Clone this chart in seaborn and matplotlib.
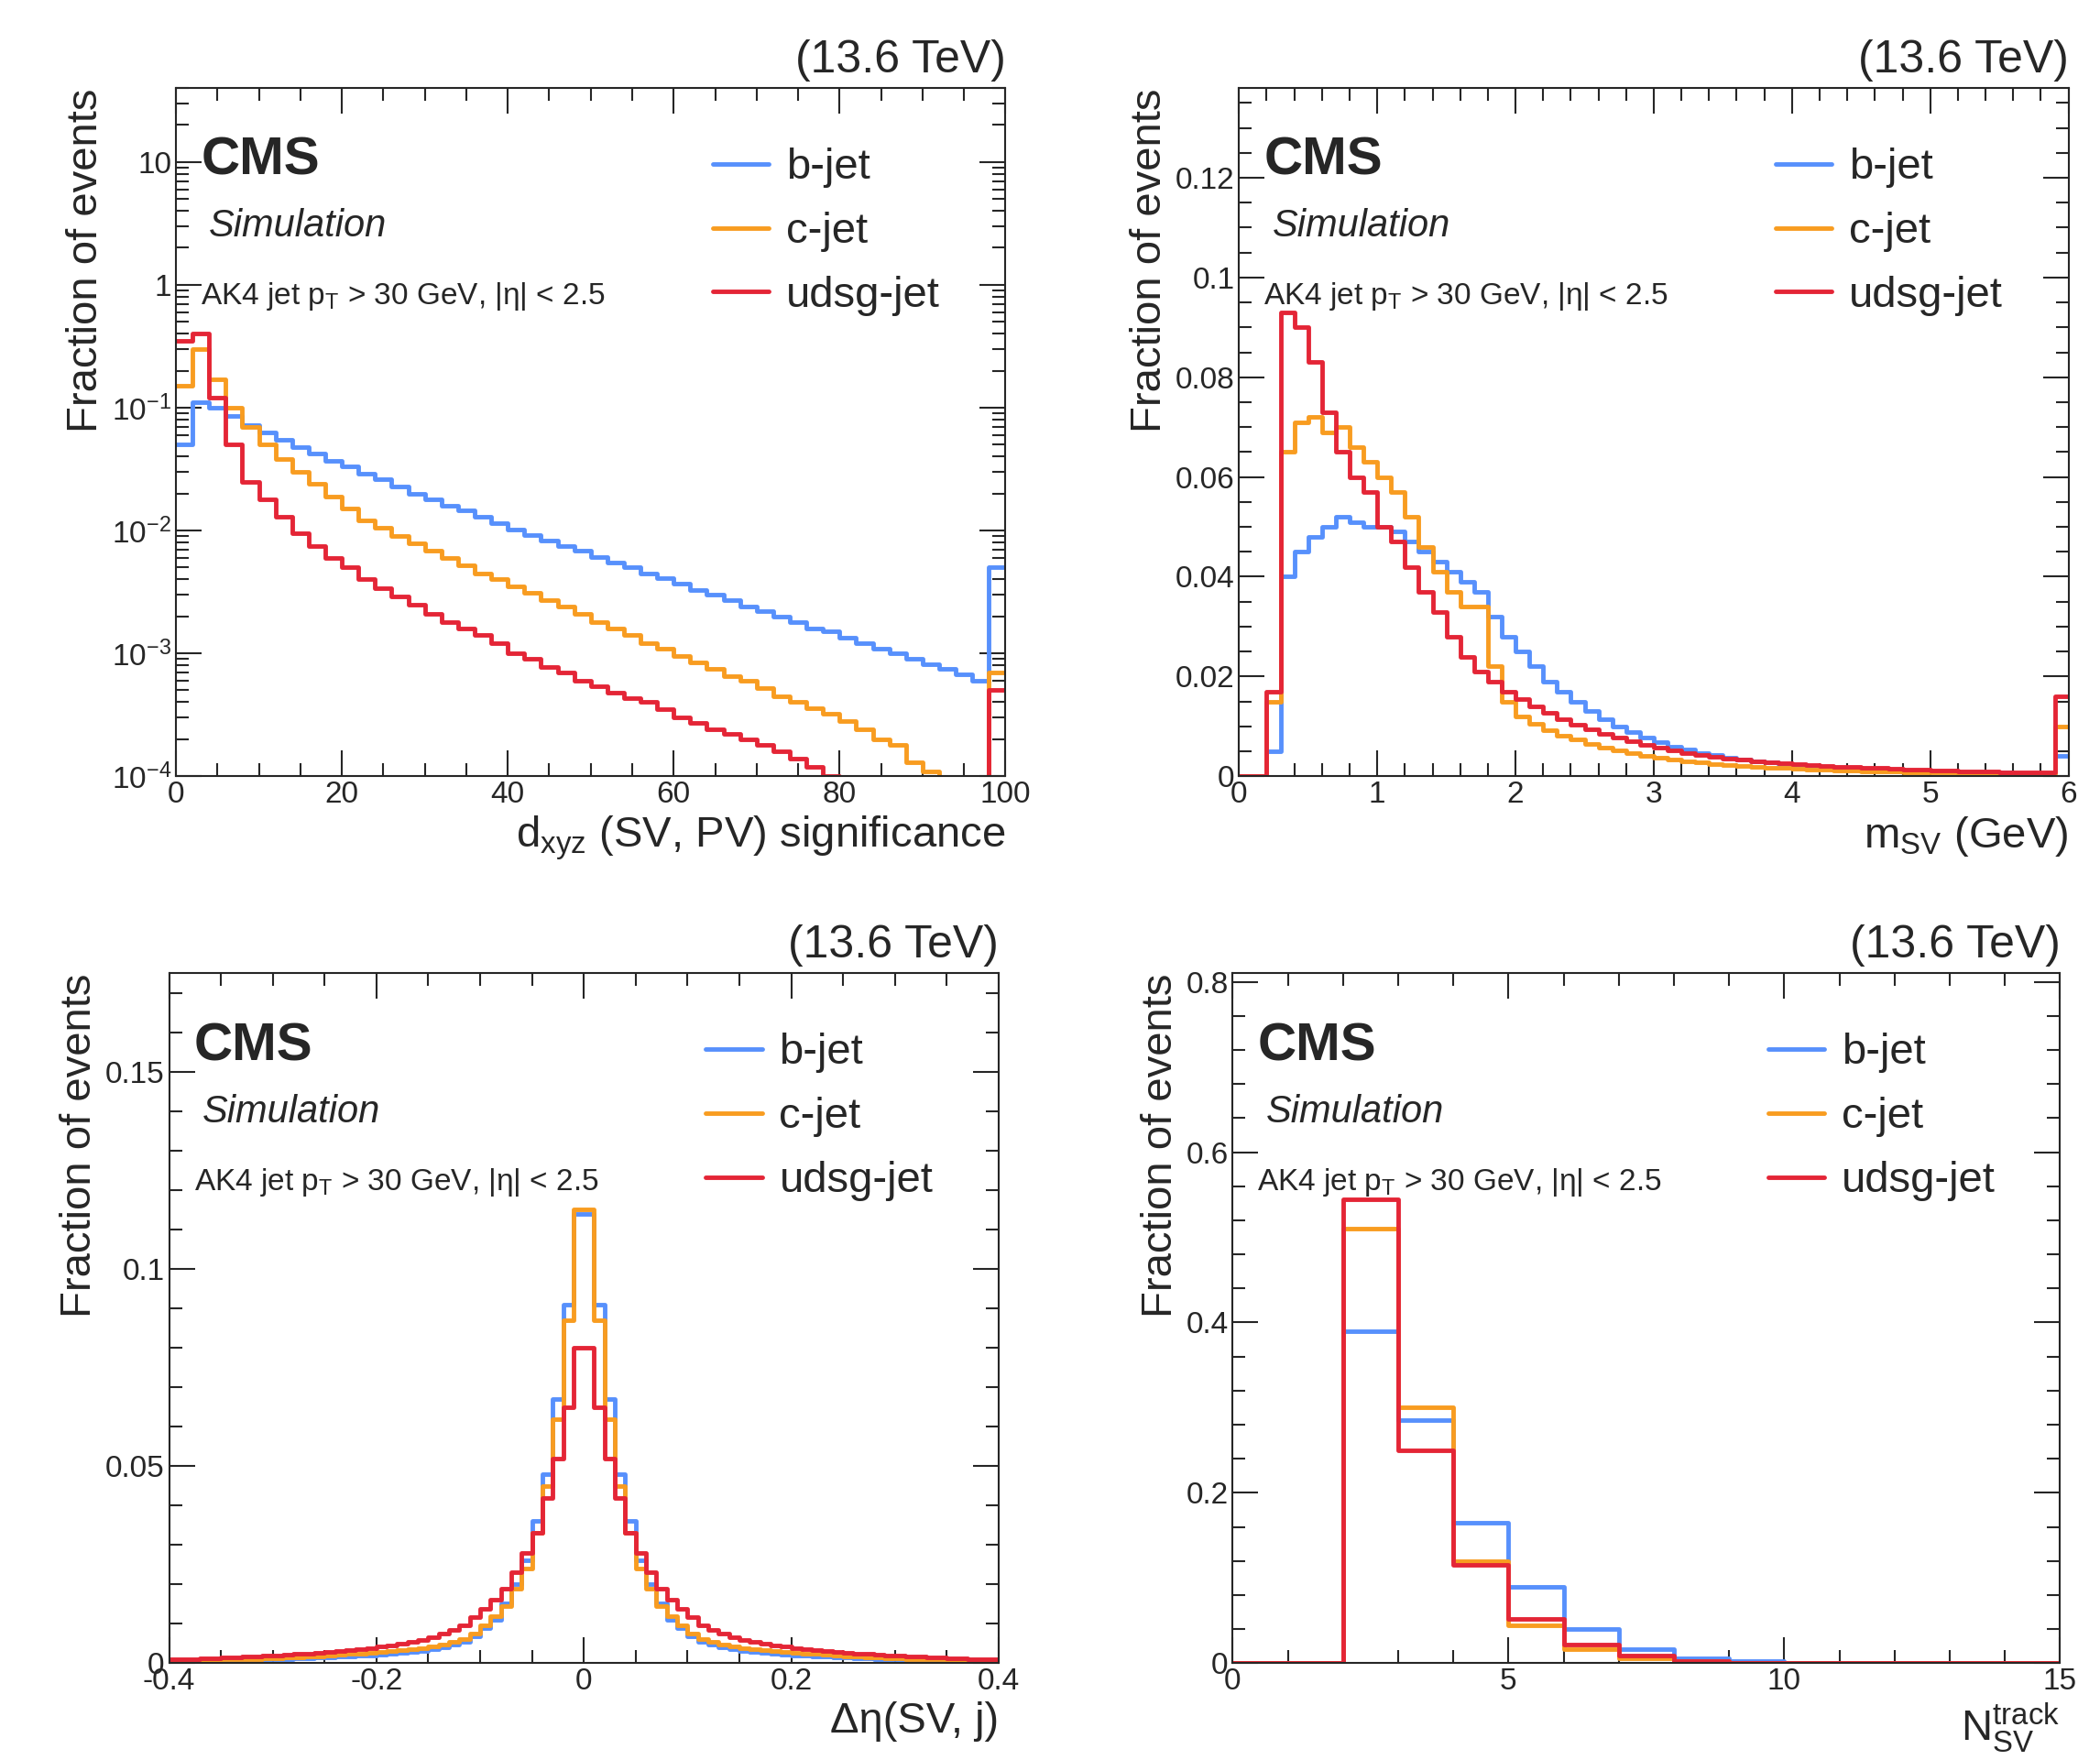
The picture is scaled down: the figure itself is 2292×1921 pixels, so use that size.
import numpy as np
import pandas as pd
import seaborn as sns
import matplotlib.pyplot as plt
from matplotlib.lines import Line2D
from matplotlib.ticker import AutoMinorLocator, LogLocator, NullFormatter, MultipleLocator, FuncFormatter

sns.set_theme(style="ticks")
plt.rcParams['font.family'] = ['Liberation Sans', 'DejaVu Sans']
plt.rcParams['mathtext.fontset'] = 'custom'
plt.rcParams['mathtext.rm'] = 'Liberation Sans'
plt.rcParams['mathtext.it'] = 'Liberation Sans:italic'

colors = {"b-jet": "#5790fc", "c-jet": "#f89c20", "udsg-jet": "#e42536"}
flavours = ["b-jet", "c-jet", "udsg-jet"]

# --- dxyz significance, 50 bins 0..100 (last bin = overflow)
dxyz_edges = np.linspace(0, 100, 51)
dxyz_b = [0.05, 0.11, 0.1, 0.085, 0.072, 0.063, 0.055, 0.048, 0.042, 0.037, 0.033, 0.029, 0.026, 0.023,
          0.020, 0.018, 0.016, 0.0145, 0.013, 0.0115, 0.0102, 0.0092, 0.0083, 0.0075, 0.0068, 0.0061,
          0.0055, 0.0050, 0.0045, 0.0041, 0.0037, 0.0033, 0.0030, 0.0027, 0.0024, 0.0022, 0.0020,
          0.0018, 0.0016, 0.0015, 0.00135, 0.0012, 0.0011, 0.001, 0.0009, 0.00082, 0.00075, 0.00068,
          0.0006, 0.005]
dxyz_c = [0.15, 0.3, 0.17, 0.1, 0.07, 0.05, 0.038, 0.03, 0.024, 0.019, 0.015, 0.012, 0.0105, 0.009,
          0.0078, 0.0068, 0.006, 0.0052, 0.0045, 0.004, 0.0035, 0.0031, 0.0027, 0.0024, 0.0021, 0.0018,
          0.0016, 0.0014, 0.0012, 0.0011, 0.00095, 0.00085, 0.00075, 0.00065, 0.0006, 0.00052, 0.00045,
          0.0004, 0.00036, 0.00032, 0.00028, 0.00024, 0.0002, 0.00018, 0.00013, 0.00011, 0, 0, 0, 0.0007]
dxyz_l = [0.35, 0.4, 0.12, 0.05, 0.025, 0.018, 0.013, 0.0095, 0.0075, 0.006, 0.005, 0.004, 0.0034,
          0.0029, 0.0025, 0.0021, 0.0018, 0.0016, 0.0014, 0.0012, 0.001, 0.0009, 0.00078, 0.0007,
          0.0006, 0.00054, 0.00048, 0.00043, 0.0004, 0.00035, 0.0003, 0.00027, 0.00024, 0.00022,
          0.0002, 0.00018, 0.00016, 0.00014, 0.00012, 0.0001, 0, 0, 0, 0, 0, 0, 0, 0, 0, 0.0005]

# --- SV mass, 60 bins 0..6 GeV
msv_edges = np.linspace(0, 6, 61)
msv_b = [0, 0, 0.005, 0.04, 0.045, 0.048, 0.05, 0.052, 0.051, 0.05, 0.05, 0.049, 0.047, 0.045, 0.043,
         0.041, 0.039, 0.037, 0.032, 0.028, 0.025, 0.022, 0.019, 0.017, 0.015, 0.013, 0.0115, 0.01,
         0.0088, 0.0077, 0.0068, 0.006, 0.0053, 0.0047, 0.0042, 0.0037, 0.0033, 0.003, 0.0027, 0.0024,
         0.0022, 0.002, 0.0018, 0.0016, 0.0015, 0.0014, 0.0013, 0.0012, 0.0011, 0.001, 0.00095, 0.0009,
         0.00085, 0.0008, 0.00075, 0.0007, 0.00065, 0.0006, 0.00055, 0.004]
msv_c = [0, 0, 0.015, 0.065, 0.071, 0.072, 0.069, 0.07, 0.066, 0.063, 0.06, 0.057, 0.052, 0.046, 0.041,
         0.037, 0.034, 0.034, 0.022, 0.015, 0.012, 0.0105, 0.0092, 0.0082, 0.0073, 0.0065, 0.0058,
         0.0052, 0.0046, 0.0041, 0.0037, 0.0033, 0.003, 0.0027, 0.0024, 0.0022, 0.002, 0.0018, 0.0017,
         0.0016, 0.0015, 0.0014, 0.0013, 0.0012, 0.0011, 0.001, 0.00095, 0.0009, 0.00085, 0.0008,
         0.00075, 0.0007, 0.00065, 0.0006, 0.00055, 0.0005, 0.00045, 0.0004, 0.0004, 0.01]
msv_l = [0, 0, 0.017, 0.093, 0.09, 0.083, 0.073, 0.065, 0.06, 0.057, 0.05, 0.047, 0.042, 0.037, 0.033,
         0.028, 0.024, 0.021, 0.019, 0.017, 0.0155, 0.014, 0.0127, 0.0115, 0.0104, 0.0094, 0.0085,
         0.0077, 0.007, 0.0063, 0.0057, 0.0052, 0.0047, 0.0043, 0.0039, 0.0036, 0.0033, 0.003, 0.0028,
         0.0026, 0.0024, 0.0022, 0.002, 0.0019, 0.0018, 0.0017, 0.0016, 0.0015, 0.0014, 0.0013, 0.0012,
         0.0011, 0.001, 0.00095, 0.0009, 0.00085, 0.0008, 0.00075, 0.0007, 0.016]

# --- delta eta(SV, j), 80 bins -0.4..0.4; values from the bin at 0 outwards (mirrored)
deta_edges = np.linspace(-0.4, 0.4, 81)
deta_b_half = [0.114, 0.091, 0.067, 0.048, 0.036, 0.026, 0.02, 0.0153, 0.011, 0.0088, 0.0068, 0.0055,
               0.0047, 0.0041, 0.0036, 0.0032, 0.0029, 0.0026, 0.0024, 0.0022, 0.002, 0.0019, 0.0017,
               0.0016, 0.0015, 0.0014, 0.0013, 0.0012, 0.0011, 0.001, 0.00095, 0.0009, 0.00085, 0.0008,
               0.00075, 0.0007, 0.00065, 0.0006, 0.00055, 0.0005]
deta_c_half = [0.115, 0.087, 0.062, 0.045, 0.033, 0.024, 0.019, 0.0145, 0.012, 0.0095, 0.0075, 0.0062,
               0.0054, 0.0048, 0.0043, 0.0039, 0.0036, 0.0033, 0.0031, 0.0029, 0.0027, 0.0025, 0.0023,
               0.0021, 0.0019, 0.0018, 0.0017, 0.0015, 0.0014, 0.0013, 0.0012, 0.0011, 0.001, 0.00095,
               0.0009, 0.00085, 0.0008, 0.00075, 0.0007, 0.00065]
deta_l_half = [0.08, 0.065, 0.052, 0.042, 0.033, 0.028, 0.023, 0.019, 0.016, 0.0137, 0.0117, 0.0097,
               0.0085, 0.0075, 0.0067, 0.006, 0.0055, 0.005, 0.0046, 0.0042, 0.0039, 0.0036, 0.0033,
               0.0031, 0.0029, 0.0027, 0.0025, 0.0023, 0.0021, 0.002, 0.0019, 0.0017, 0.0016, 0.0015,
               0.0014, 0.0013, 0.0012, 0.0011, 0.00105, 0.001]

# --- number of tracks in SV, 15 bins 0..15
ntrk_edges = np.arange(0, 16)
ntrk_b = [0, 0, 0.39, 0.285, 0.165, 0.09, 0.04, 0.017, 0.006, 0.002, 0, 0, 0, 0, 0]
ntrk_c = [0, 0, 0.51, 0.30, 0.12, 0.045, 0.017, 0.006, 0.002, 0, 0, 0, 0, 0, 0]
ntrk_l = [0, 0, 0.545, 0.25, 0.115, 0.052, 0.022, 0.009, 0.003, 0, 0, 0, 0, 0, 0]


def sym(half):
    return half[::-1] + half


def make_df(edges, b, c, l):
    centers = 0.5 * (edges[:-1] + edges[1:])
    rows = []
    for fl, vals in zip(flavours, [b, c, l]):
        rows += [{"x": x, "w": w, "flav": fl} for x, w in zip(centers, vals)]
    return pd.DataFrame(rows)


panels = [
    dict(df=make_df(dxyz_edges, dxyz_b, dxyz_c, dxyz_l), edges=dxyz_edges, log=True,
         xlim=(0, 100), ylim=(1e-4, 40), xmaj=20, xmin=4, ymaj=None, ymin=None,
         xlabel=r"d$_{\mathrm{xyz}}$ (SV, PV) significance", pos=[0.0838, 0.559, 0.395, 0.391]),
    dict(df=make_df(msv_edges, msv_b, msv_c, msv_l), edges=msv_edges, log=False,
         xlim=(0, 6), ylim=(0, 0.138), xmaj=1, xmin=5, ymaj=0.02, ymin=4,
         xlabel=r"m$_{\mathrm{SV}}$ (GeV)", pos=[0.590, 0.559, 0.395, 0.391]),
    dict(df=make_df(deta_edges, sym(deta_b_half), sym(deta_c_half), sym(deta_l_half)),
         edges=deta_edges, log=False, xlim=(-0.4, 0.4), ylim=(0, 0.175), xmaj=0.2, xmin=4,
         ymaj=0.05, ymin=5, xlabel="Δη(SV, j)", pos=[0.0805, 0.055, 0.395, 0.392]),
    dict(df=make_df(ntrk_edges, ntrk_b, ntrk_c, ntrk_l), edges=ntrk_edges, log=False,
         xlim=(0, 15), ylim=(0, 0.81), xmaj=5, xmin=5, ymaj=0.2, ymin=5,
         xlabel=r"N$_{\mathrm{SV}}^{\mathrm{track}}$", pos=[0.587, 0.055, 0.394, 0.392]),
]

fmt = FuncFormatter(lambda v, _: "0" if abs(v) < 1e-12 else f"{v:g}")


def logfmt(v, _):
    e = int(round(np.log10(v)))
    if e == 0:
        return "1"
    if e == 1:
        return "10"
    return rf"10$^{{{e}}}$".replace("-", "−")


fig = plt.figure(figsize=(22.92, 19.21), dpi=100)

for p in panels:
    ax = fig.add_axes(p["pos"])
    df = p["df"]
    for fl in flavours:  # udsg drawn last, on top
        sns.histplot(data=df[df["flav"] == fl], x="x", weights="w", bins=list(p["edges"]),
                     element="step", fill=False, color=colors[fl], linewidth=3.5, ax=ax)
    if p["log"]:
        ax.set_yscale("log", nonpositive="clip")
        ax.yaxis.set_major_locator(LogLocator(base=10, numticks=10))
        ax.yaxis.set_minor_locator(LogLocator(base=10, subs=np.arange(2, 10), numticks=20))
        ax.yaxis.set_minor_formatter(NullFormatter())
        ax.yaxis.set_major_formatter(FuncFormatter(logfmt))
    else:
        ax.yaxis.set_major_locator(MultipleLocator(p["ymaj"]))
        ax.yaxis.set_minor_locator(AutoMinorLocator(p["ymin"]))
        ax.yaxis.set_major_formatter(fmt)
    ax.xaxis.set_major_locator(MultipleLocator(p["xmaj"]))
    ax.xaxis.set_minor_locator(AutoMinorLocator(p["xmin"]))
    ax.xaxis.set_major_formatter(fmt)
    ax.set_xlim(p["xlim"])
    ax.set_ylim(p["ylim"])
    ax.set_xlabel(p["xlabel"], fontsize=34, loc="right")
    ax.set_ylabel("Fraction of events", fontsize=34, loc="top")
    ax.tick_params(which="both", direction="in", top=True, right=True, labelsize=24, width=1.5)
    ax.tick_params(which="major", length=20)
    ax.tick_params(which="minor", length=10)
    for s in ax.spines.values():
        s.set_linewidth(1.5)
    ax.text(0.03, 0.93, "CMS", transform=ax.transAxes, fontsize=42, fontweight="bold", va="top")
    ax.text(0.04, 0.825, "Simulation", transform=ax.transAxes, fontsize=30, style="italic", va="top")
    ax.text(0.03, 0.72, r"AK4 jet p$_{\mathrm{T}}$ > 30 GeV, |η| < 2.5",
            transform=ax.transAxes, fontsize=24, va="top")
    ax.text(1.0, 1.01, "(13.6 TeV)", transform=ax.transAxes, fontsize=36, ha="right", va="bottom")
    handles = [Line2D([], [], color=colors[f], lw=3.5) for f in flavours]
    ax.legend(handles, flavours, loc="upper left", bbox_to_anchor=(0.6, 0.97), frameon=False,
              fontsize=34, handlelength=1.3, labelspacing=0.55, handletextpad=0.4)

fig.savefig("out.png", dpi=100)
